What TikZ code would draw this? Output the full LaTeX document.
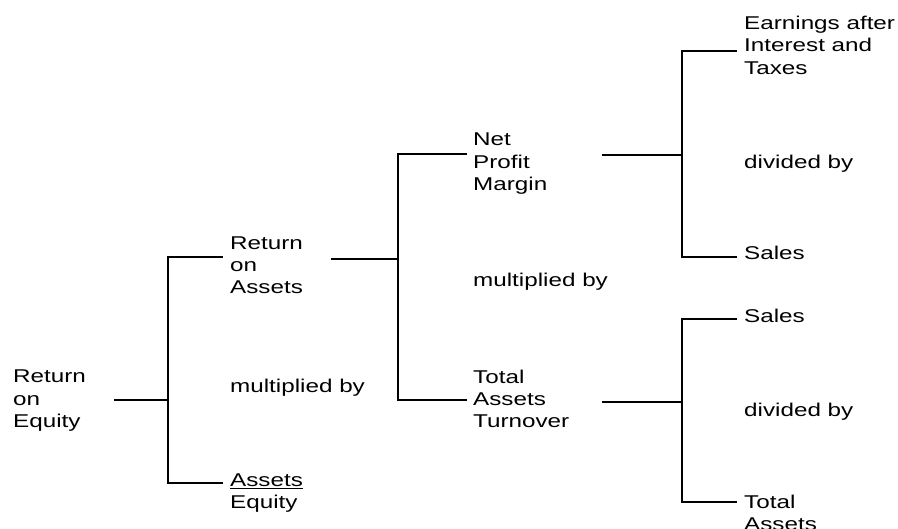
\documentclass[tikz,border=0pt]{standalone}
\usepackage{fontspec}
\setmainfont[FakeStretch=1.31]{Liberation Sans}
\begin{document}
\begin{tikzpicture}[x=1pt,y=-1pt,
  lbl/.style={anchor=base west,inner sep=0pt,align=left,font=\fontsize{18.5}{22.3}\selectfont},
  conn/.style={line width=2pt,line cap=rect}]
\useasboundingbox (0,0) rectangle (898,529);
% texts (anchored at the baseline of the last line)
\node[lbl] (roe) at (13,427.6) {Return\\on\\Equity};
\node[lbl] (roa) at (230,293.8) {Return\\on\\Assets};
\node[lbl] (mul1) at (230,393) {multiplied by};
\node[lbl] (ae) at (230,508.8) {\underline{Assets}\\Equity};
\node[lbl] (npm) at (473,190.6) {Net\\Profit\\Margin};
\node[lbl] (mul2) at (473,286.5) {multiplied by};
\node[lbl] (tat) at (473,427.9) {Total\\Assets\\Turnover};
\node[lbl] (eait) at (744,74.1) {Earnings after\\Interest and\\Taxes};
\node[lbl] (div1) at (744,168.3) {divided by};
\node[lbl] (sal1) at (744,260) {Sales};
\node[lbl] (sal2) at (744,322.3) {Sales};
\node[lbl] (div2) at (744,416.7) {divided by};
\node[lbl] (ta) at (744,530.6) {Total\\Assets};
% connector points
\coordinate (roeR) at (115,400);
\coordinate (roaL) at (222,257);
\coordinate (aeL) at (222,483);
\coordinate (roaR) at (332,259);
\coordinate (npmL) at (466,154);
\coordinate (tatL) at (466,400);
\coordinate (npmR) at (603,155);
\coordinate (eaitL) at (736,51);
\coordinate (sal1L) at (736,257);
\coordinate (tatR) at (603,402);
\coordinate (sal2L) at (736,319);
\coordinate (taL) at (736,502);
% connectors
\draw[conn] (roeR) -- (168,400);
\draw[conn] (roaL) -| (168,400) |- (aeL);
\draw[conn] (roaR) -- (398,259);
\draw[conn] (npmL) -| (398,259) |- (tatL);
\draw[conn] (npmR) -- (682,155);
\draw[conn] (eaitL) -| (682,155) |- (sal1L);
\draw[conn] (tatR) -- (682,402);
\draw[conn] (sal2L) -| (682,402) |- (taL);
\end{tikzpicture}
\end{document}
